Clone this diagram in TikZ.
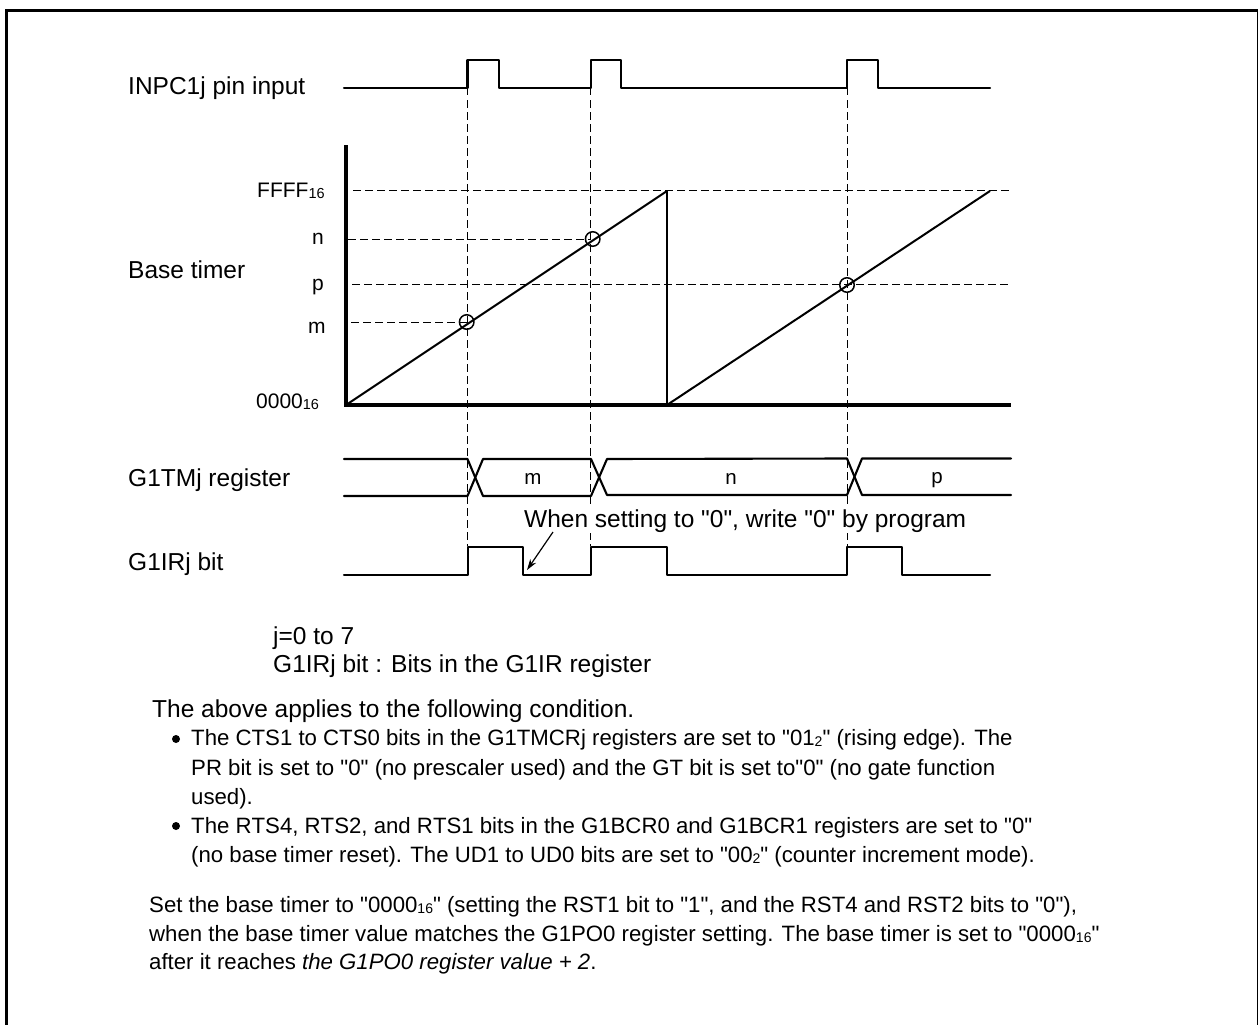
\documentclass[tikz,border=0pt]{standalone}
\usepackage{fontspec}
\newfontfamily\arialf[Kerning=Off]{Liberation Sans}
\usetikzlibrary{arrows.meta}
\newcommand{\smallidx}[1]{\raisebox{-1.5pt}{\fontsize{14.5}{16}\selectfont #1}}
\newcommand{\smallidxb}[1]{\raisebox{-1.3pt}{\fontsize{14}{15}\selectfont #1}}
\tikzset{
  x=1pt,y=-1pt,
  wave/.style={line width=2.1pt,line cap=round,line join=round},
  guide/.style={line width=1.2pt,dash pattern=on 7.5pt off 4.5pt},
  axis/.style={line width=3.2pt},
  marker/.style={circle,draw,line width=1.5pt,minimum size=14.5pt,inner sep=0pt},
  label/.style={anchor=base west,inner sep=0pt,font=\arialf\fontsize{24.5}{28}\selectfont},
  tick/.style={anchor=base west,inner sep=0pt,font=\arialf\fontsize{21}{24}\selectfont},
  value/.style={anchor=base,inner sep=0pt,font=\arialf\fontsize{20.5}{24}\selectfont},
  note/.style={anchor=base west,inner sep=0pt,font=\arialf\fontsize{24.5}{28}\selectfont},
  fine/.style={anchor=base west,inner sep=0pt,font=\arialf\fontsize{22.2}{26}\selectfont},
  dotb/.style={circle,fill,inner sep=0pt,minimum size=8pt},
}
\begin{document}
\begin{tikzpicture}
\useasboundingbox (0,0) rectangle (1259,1025);
\draw[line width=2.7pt] (6.3,1025) -- (6.3,10.5) -- (1257.5,10.5);
\draw[line width=1.6pt] (1257.5,10.5) -- (1257.5,1025);
% guides
\foreach \gx in {467.5,590.5,847.5}{\draw[guide] (\gx,88) -- (\gx,546);}
\draw[guide] (353,190.5) -- (1010,190.5);
\draw[guide] (348,239.5) -- (590,239.5);
\draw[guide] (352,284.5) -- (1010,284.5);
\draw[guide] (351,322.5) -- (467,322.5);
% input waveform
\draw[wave] (344,88) -- (467.5,88) -- (467.5,60) -- (499,60) -- (499,88) -- (591,88) -- (591,60) -- (621,60) -- (621,88) -- (847,88) -- (847,60) -- (878,60) -- (878,88) -- (990,88);
% axes
\draw[axis] (346,145) -- (346,405) -- (1011,405);
% ramps
\draw[line width=2pt] (346,405) -- (667,191);
\draw[line width=2.6pt] (667,191) -- (667,405);
\draw[line width=2pt] (667,405) -- (990,191);
\node[marker] (cm) at (466.7,322) {};
\node[marker] (cn) at (592.7,239) {};
\node[marker] (cp) at (847,285) {};
% register
\draw[wave] (344,459) -- (467.5,459) -- (483,496) -- (591,496) -- (607,459) -- (847,458.5) -- (862,495) -- (1011,495);
\draw[wave] (344,496) -- (467.5,496) -- (483,459) -- (591,459) -- (607,495) -- (847,495) -- (862,458.5) -- (1011,458.5);
% bit
\draw[wave] (344,575) -- (468,575) -- (468,547) -- (523,547) -- (523,575) -- (591,575) -- (591,547) -- (667,547) -- (667,575) -- (847,575) -- (847,547) -- (902,547) -- (902,575) -- (990,575);
% labels
\node[label] (l1) at (128,95) {INPC1j pin input};
\node[label] (l2) at (128,278) {Base timer};
\node[label] (l3) at (128,486) {G1TMj register};
\node[label] (l4) at (128,570) {G1IRj bit};
\node[tick] (t1) at (257,197) {FFFF\smallidx{16}};
\node[tick] (t2) at (312,244) {n};
\node[tick] (t3) at (312,290) {p};
\node[tick] (t4) at (308,333) {m};
\node[tick] (t5) at (256,408) {0000\smallidx{16}};
\node[value] (vm) at (533,484) {m};
\node[value] (vn) at (731,484) {n};
\node[value] (vp) at (937,483) {p};
\node[label,fill=white,inner ysep=1pt,inner xsep=0pt] (when) at (524,527) {When setting to "0", write "0" by program};
\coordinate (tipw) at (527,570);
\coordinate (tailw) at (553,532);
\draw[-{Stealth[length=11pt,width=7pt]},line width=1.2pt] (tailw) -- (tipw);
% notes
\node[note] (n1) at (273,644) {j=0 to 7};
\node[note] (n2) at (273,672) {G1IRj bit : Bits in the G1IR register};
\node[note] (n3) at (152,717) {The above applies to the following condition.};
\node[dotb] (b1) at (176,739) {};
\node[fine] (p1) at (191,745) {The CTS1 to CTS0 bits in the G1TMCRj registers are set to "01\smallidxb{2}" (rising edge). The};
\node[fine] (p2) at (191,775) {PR bit is set to "0" (no prescaler used) and the GT bit is set to"0" (no gate function};
\node[fine] (p3) at (191,804) {used).};
\node[dotb] (b2) at (176,826) {};
\node[fine] (p4) at (191,833) {The RTS4, RTS2, and RTS1 bits in the G1BCR0 and G1BCR1 registers are set to "0"};
\node[fine] (p5) at (191,862) {(no base timer reset). The UD1 to UD0 bits are set to "00\smallidxb{2}" (counter increment mode).};
\node[fine] (s1) at (149,912) {Set the base timer to "0000\smallidxb{16}" (setting the RST1 bit to "1", and the RST4 and RST2 bits to "0"),};
\node[fine] (s2) at (149,941) {when the base timer value matches the G1PO0 register setting. The base timer is set to "0000\smallidxb{16}"};
\node[fine] (s3) at (149,969) {after it reaches \textit{the G1PO0 register value + 2}.};
\end{tikzpicture}
\end{document}
